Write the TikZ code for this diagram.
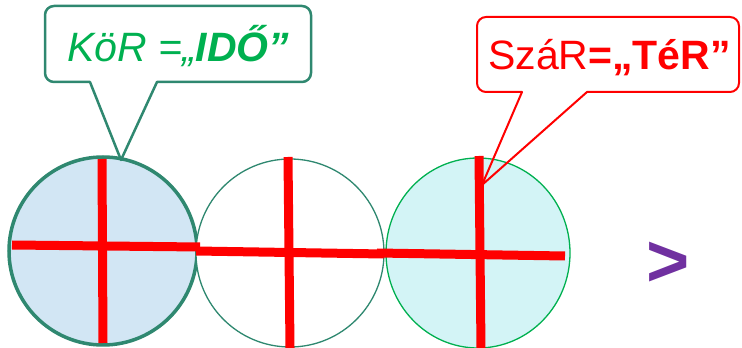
\documentclass[tikz,border=0pt]{standalone}
\usepackage{fontspec}
\setmainfont{Liberation Sans}
\usetikzlibrary{shapes.geometric}
\definecolor{tgreen}{HTML}{00B050}
\definecolor{teal1}{HTML}{2F8870}
\definecolor{fillA}{HTML}{D2E6F4}
\definecolor{fillC}{HTML}{D3F4F6}
\definecolor{purp}{HTML}{7030A0}
\tikzset{
  redbar/.style={draw=red, line width=9pt},
  callA/.style={draw=teal1, line width=2.5pt, line join=round},
  callB/.style={draw=red, line width=2pt, line join=round},
}
\begin{document}
\begin{tikzpicture}[x=1pt,y=1pt]
\useasboundingbox (0,0) rectangle (742,348);
% circles
\node (c1) [circle, draw=teal1, line width=3.5pt, fill=fillA, minimum size=188pt, inner sep=0pt] at (103,97) {};
\node (c2) [circle, draw=teal1, line width=1.3pt, fill=white, minimum size=188pt, inner sep=0pt] at (290,95) {};
\node (c3) [ellipse, draw=tgreen, line width=1.3pt, fill=fillC, minimum width=184pt, minimum height=190pt, inner sep=0pt] at (478,95) {};
% red cross lines
\coordinate (h1a) at (12,103); \coordinate (h1b) at (200,101);
\coordinate (v1a) at (102,189); \coordinate (v1b) at (103,5);
\coordinate (h2a) at (196,97); \coordinate (h2b) at (384,94);
\coordinate (v2a) at (288,191); \coordinate (v2b) at (290,0);
\coordinate (h3a) at (377,95); \coordinate (h3b) at (565,92);
\coordinate (v3a) at (479,192); \coordinate (v3b) at (481,0);
\draw[redbar] (h1a) -- (h1b);
\draw[redbar] (v1a) -- (v1b);
\draw[redbar] (h2a) -- (h2b);
\draw[redbar] (v2a) -- (v2b);
\draw[redbar] (h3a) -- (h3b);
\draw[redbar] (v3a) -- (v3b);
% callout 1
\coordinate (tipA) at (121,188);
\draw[callA] (90,266) -- (54,266) arc(270:180:9) -- (45,333) arc(180:90:9) -- (302,342) arc(90:0:9) -- (311,275) arc(0:-90:9) -- (157,266) -- (tipA) -- cycle;
\node (tA) [anchor=base west, inner sep=0pt, text=tgreen, font=\fontsize{41}{48}\selectfont\itshape] at (67,286) {KöR =„\textbf{IDŐ”}};
% callout 2
\coordinate (tipB) at (482,163);
\draw[callB] (522,256) -- (486,256) arc(270:180:9) -- (477,322) arc(180:90:9) -- (730,331) arc(90:0:9) -- (739,265) arc(0:-90:9) -- (587,256) -- (tipB) -- cycle;
\node (tB) [anchor=base west, inner sep=0pt, text=red, font=\fontsize{41}{48}\selectfont] at (488,278) {SzáR\textbf{=„TéR”}};
% greater-than sign
\node (gt) [inner sep=0pt, text=purp, font=\fontsize{74}{80}\selectfont\bfseries] at (668,84) {>};
\end{tikzpicture}
\end{document}
